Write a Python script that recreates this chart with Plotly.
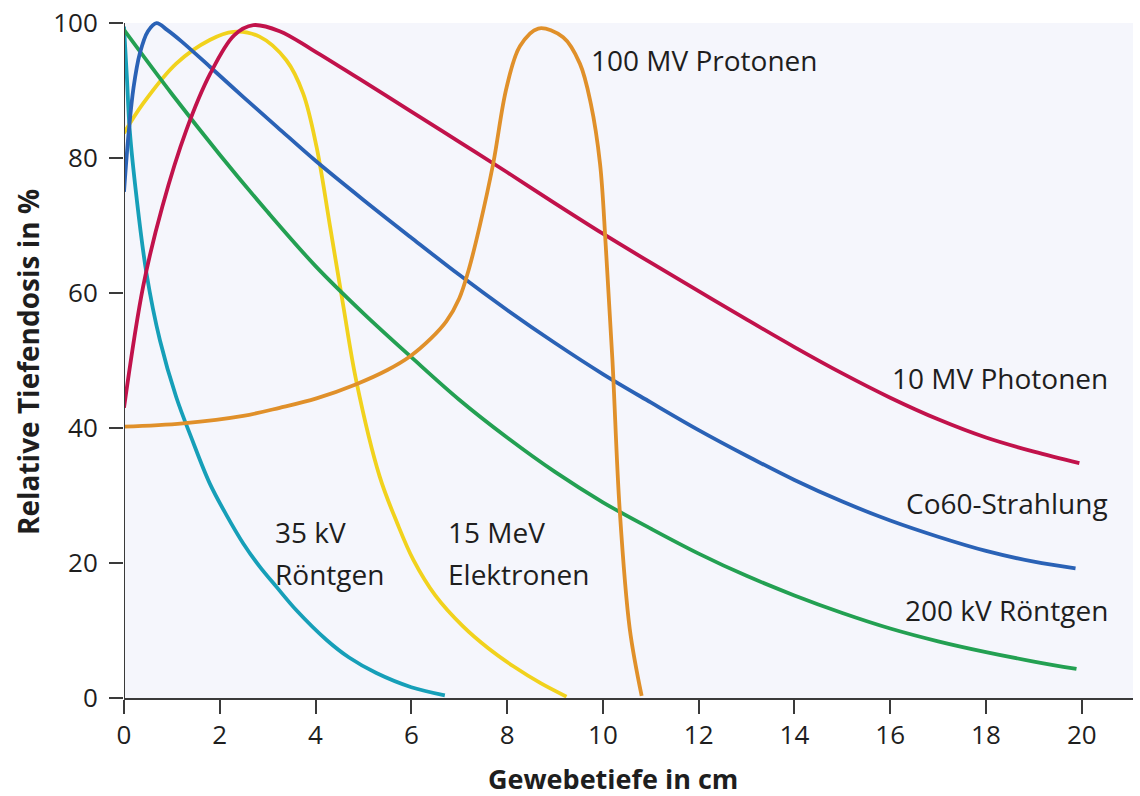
import plotly.graph_objects as go

# ---- Data ----
x_35kv = [0, 0.06, 0.12, 0.26, 0.47, 0.75, 1.09, 1.41, 1.79, 2.14, 2.49, 2.83, 3.18, 3.6, 4.23, 4.7, 5.27, 6.0, 6.7]
y_35kv = [99.5, 92, 84.1, 74.3, 62.9, 53, 44.6, 38.5, 31.8, 27.1, 22.9, 19.5, 16.5, 13, 8.6, 6.0, 3.7, 1.6, 0.4]

x_15mev = [0, 0.4, 1.09, 1.79, 2.28, 2.83, 3.39, 3.74, 4.02, 4.3, 4.57, 4.85, 5.34, 5.7, 6.04, 6.5, 7.08, 7.6, 8.13, 8.7, 9.24]
y_15mev = [83.7, 88.1, 94, 97.5, 98.7, 98, 94.5, 89.6, 81.7, 70, 58.5, 47, 32.8, 26, 20.5, 15.2, 10.6, 7.4, 4.7, 2.2, 0.2]

x_200kv = [0, 1, 2, 3, 4, 5, 6, 7, 8, 9, 10, 11, 12, 13, 14, 15, 16, 17, 18, 19, 19.89]
y_200kv = [99, 89.5, 80.5, 72, 64, 57, 50.5, 44.2, 38.6, 33.5, 29, 25.1, 21.4, 18.1, 15.2, 12.6, 10.3, 8.4, 6.8, 5.4, 4.3]

x_co60 = [0, 0.1, 0.2, 0.33, 0.5, 0.68, 0.9, 1.2, 1.8, 2.5, 3.2, 4, 5, 6, 7, 8, 9, 10, 11, 12, 13, 14, 15, 16, 17, 18, 19, 19.87]
y_co60 = [75, 84, 90.5, 95.5, 98.8, 100, 99, 97.3, 93.5, 89, 84.6, 79.6, 73.8, 68.2, 62.7, 57.5, 52.6, 48, 43.8, 39.7, 35.9, 32.3, 29.1, 26.3, 23.9, 21.8, 20.2, 19.2]

x_10mv = [0, 0.4, 0.8, 1.3, 1.8, 2.3, 2.7, 3.25, 3.9, 4.9, 6, 7, 8, 9, 10, 11, 12, 13, 14, 15, 16, 17, 18, 19, 19.95]
y_10mv = [43, 61, 72.8, 84.1, 92.5, 98.2, 99.7, 98.8, 96.2, 91.8, 86.9, 82.4, 77.9, 73.3, 68.8, 64.5, 60.3, 56.1, 52, 48.1, 44.5, 41.3, 38.6, 36.5, 34.8]

x_prot = [0, 1.23, 2.49, 3.25, 4.02, 4.85, 5.5, 5.97, 6.4, 6.73, 7.0, 7.2, 7.43, 7.71, 7.99, 8.27, 8.65, 9.17, 9.52, 9.75, 9.94, 10.06, 10.2, 10.35, 10.56, 10.81]
y_prot = [40.2, 40.7, 41.8, 43.0, 44.4, 46.5, 48.6, 50.6, 53.2, 55.8, 59.2, 63.5, 70, 79.2, 90.5, 96.6, 99.2, 97.9, 94, 88, 79.2, 67, 50, 28, 10.3, 0.3]

series = [
    ("35 kV Röntgen", x_35kv, y_35kv, "#169fb8"),
    ("15 MeV Elektronen", x_15mev, y_15mev, "#f1d21d"),
    ("200 kV Röntgen", x_200kv, y_200kv, "#23a052"),
    ("Co60-Strahlung", x_co60, y_co60, "#2a62b6"),
    ("10 MV Photonen", x_10mv, y_10mv, "#c1124b"),
    ("100 MV Protonen", x_prot, y_prot, "#e0902a"),
]

x_ticks = [0, 2, 4, 6, 8, 10, 12, 14, 16, 18, 20]
y_ticks = [0, 20, 40, 60, 80, 100]

X_MAX = 21.07
Y_TOP = 101.5
FONT = "Open Sans"
TXT = "#1e1e1e"
AX = "#3a3a3a"

fig = go.Figure()
for name, xs, ys, col in series:
    fig.add_trace(go.Scatter(x=xs, y=ys, mode="lines", name=name,
                             line=dict(color=col, width=3.8, shape="spline", smoothing=1.0),
                             hoverinfo="skip"))

# plot background rect (0..100) and y-axis line
fig.add_shape(type="rect", xref="x", yref="y", x0=0, x1=X_MAX, y0=0, y1=100,
              fillcolor="#f5f6fc", line=dict(width=0), layer="below")
fig.add_shape(type="line", xref="x", yref="y", x0=0, x1=0, y0=0, y1=100,
              line=dict(color=AX, width=2), layer="above")

labels = [
    ("100 MV Protonen", 9.71, 94.5, "left"),
    ("10 MV Photonen", 20.6, 47.4, "right"),
    ("Co60-Strahlung", 20.6, 28.9, "right"),
    ("200 kV Röntgen", 20.6, 13.0, "right"),
    ("35 kV", 3.11, 24.6, "left"),
    ("Röntgen", 3.11, 18.4, "left"),
    ("15 MeV", 6.72, 24.6, "left"),
    ("Elektronen", 6.72, 18.4, "left"),
]
for t, x, y, anc in labels:
    fig.add_annotation(text=t, x=x, y=y, xref="x", yref="y", xanchor=anc, yanchor="middle",
                       showarrow=False, font=dict(family=FONT, size=28, color=TXT))

# axis titles
fig.add_annotation(text="<b>Gewebetiefe in cm</b>", xref="paper", yref="paper",
                   x=0.4846, y=-0.1168, xanchor="center", yanchor="middle", showarrow=False,
                   borderpad=0, font=dict(family=FONT, size=27, color=TXT))
fig.add_annotation(text="<b>Relative Tiefendosis in %</b>", xref="paper", yref="paper",
                   x=-0.0951, y=0.4905, xanchor="center", yanchor="middle", showarrow=False,
                   borderpad=0, textangle=-90, font=dict(family=FONT, size=28, color=TXT))

fig.update_layout(
    width=1140, height=796,
    margin=dict(l=124, r=7, t=13, b=98, autoexpand=False),
    paper_bgcolor="white", plot_bgcolor="white",
    showlegend=False,
    font=dict(family=FONT, color=TXT),
)
fig.update_xaxes(range=[0, X_MAX], tickvals=x_ticks, ticks="outside", ticklen=14, tickwidth=2,
                 tickcolor=AX, showline=True, linecolor=AX, linewidth=2, showgrid=False,
                 zeroline=False, tickfont=dict(family=FONT, size=26, color=TXT),
                 ticklabelstandoff=-1, automargin=False)
fig.update_yaxes(range=[0, Y_TOP], tickvals=y_ticks, ticks="outside", ticklen=14, tickwidth=2,
                 tickcolor=AX, showline=False, showgrid=False, zeroline=False,
                 tickfont=dict(family=FONT, size=26, color=TXT),
                 ticklabelstandoff=6, automargin=False)

fig.write_html("out.html")
